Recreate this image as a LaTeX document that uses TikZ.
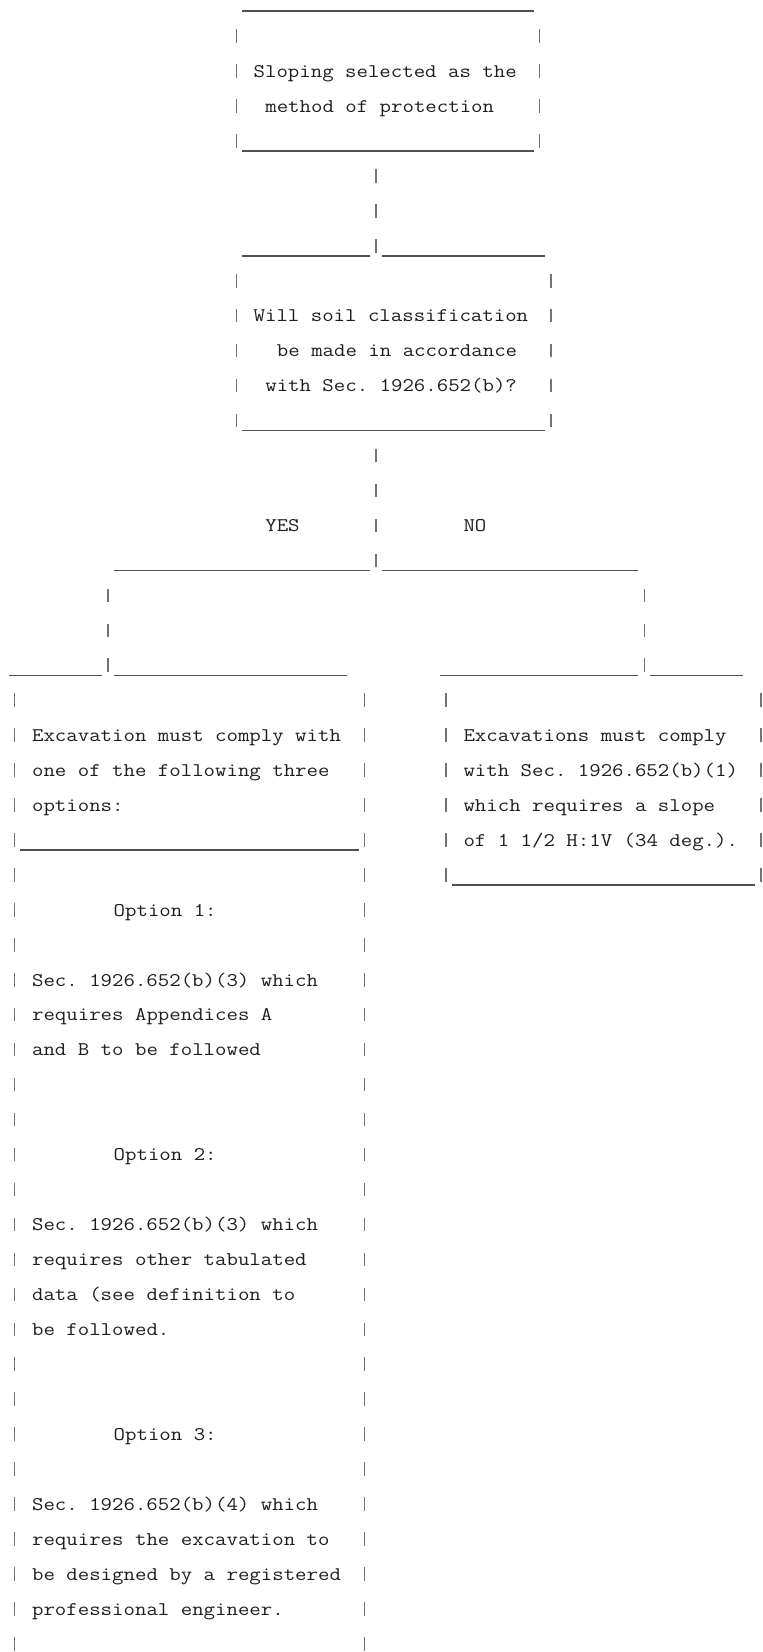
\documentclass[tikz,border=0pt]{standalone}
\usepackage{fontspec}
\usepackage{graphicx}
\definecolor{ink}{RGB}{30,30,30}
\definecolor{barc}{RGB}{115,115,115}
\definecolor{rulec}{RGB}{80,80,80}
\newcommand\tw[1]{\scalebox{1.1488}[1]{#1}}
\tikzset{
  txt/.style={anchor=base west, inner sep=0pt, outer sep=0pt, text=ink,
              font=\ttfamily\fontsize{14.5}{14.5}\selectfont\frenchspacing},
  barline/.style={draw=barc, line width=0.95pt},
  rulestyle/.style={draw=rulec, line width=1.1pt}
}
% text node: name, column, line, text
\newcommand\Txt[4]{\node[txt] (#1) at ({8.8+11.66*#2},{7.4+34.95*#3}) {\tw{#4}};}
% vertical bars: list of columns, line
\newcommand\Bars[2]{\foreach \cc in {#1} {\draw[barline] ({14.63+11.66*\cc},{7.9+34.95*#2}) -- ++(0,-13.5);}}
% underscore run: first column, last column, line
\newcommand\Rule[3]{\draw[rulestyle] ({8.8+11.66*#1},{11.2+34.95*#3}) -- ({8.8+11.66*(#2+1)},{11.2+34.95*#3});}
\begin{document}
\begin{tikzpicture}[x=0.75pt,y=-0.75pt]
\fill[white] (0,0) rectangle (763,1652);
\useasboundingbox (0,0) rectangle (763,1652);

% ---------- box 1
\Rule{20}{44}{0}
\foreach \l in {1,...,4} {\Bars{19,45}{\l}}
\Txt{b1a}{21}{2}{Sloping selected as the}
\Txt{b1b}{22}{3}{method of protection}
\Rule{20}{44}{4}

% ---------- connector 1
\foreach \l in {5,6,7} {\Bars{31}{\l}}
\Rule{20}{30}{7}
\Rule{32}{45}{7}

% ---------- box 2
\foreach \l in {8,...,12} {\Bars{19,46}{\l}}
\Txt{b2a}{21}{9}{Will soil classification}
\Txt{b2b}{23}{10}{be made in accordance}
\Txt{b2c}{22}{11}{with Sec. 1926.652(b)?}
\Rule{20}{45}{12}

% ---------- branch
\foreach \l in {13,...,16} {\Bars{31}{\l}}
\Txt{yes}{22}{15}{YES}
\Txt{no}{39}{15}{NO}
\Rule{9}{30}{16}
\Rule{32}{53}{16}
\foreach \l in {17,18,19} {\Bars{8,54}{\l}}
\Rule{0}{7}{19}
\Rule{9}{28}{19}
\Rule{37}{53}{19}
\Rule{55}{62}{19}

% ---------- left box
\foreach \l in {20,...,47} {\Bars{0,30}{\l}}
\Txt{l1}{2}{21}{Excavation must comply with}
\Txt{l2}{2}{22}{one of the following three}
\Txt{l3}{2}{23}{options:}
\Rule{1}{29}{24}
\Txt{o1}{9}{26}{Option 1:}
\Txt{o1a}{2}{28}{Sec. 1926.652(b)(3) which}
\Txt{o1b}{2}{29}{requires Appendices A}
\Txt{o1c}{2}{30}{and B to be followed}
\Txt{o2}{9}{33}{Option 2:}
\Txt{o2a}{2}{35}{Sec. 1926.652(b)(3) which}
\Txt{o2b}{2}{36}{requires other tabulated}
\Txt{o2c}{2}{37}{data (see definition to}
\Txt{o2d}{2}{38}{be followed.}
\Txt{o3}{9}{41}{Option 3:}
\Txt{o3a}{2}{43}{Sec. 1926.652(b)(4) which}
\Txt{o3b}{2}{44}{requires the excavation to}
\Txt{o3c}{2}{45}{be designed by a registered}
\Txt{o3d}{2}{46}{professional engineer.}

% ---------- right box
\foreach \l in {20,...,25} {\Bars{37,64}{\l}}
\Txt{r1}{39}{21}{Excavations must comply}
\Txt{r2}{39}{22}{with Sec. 1926.652(b)(1)}
\Txt{r3}{39}{23}{which requires a slope}
\Txt{r4}{39}{24}{of 1 1/2 H:1V (34 deg.).}
\Rule{38}{63}{25}
\end{tikzpicture}
\end{document}
